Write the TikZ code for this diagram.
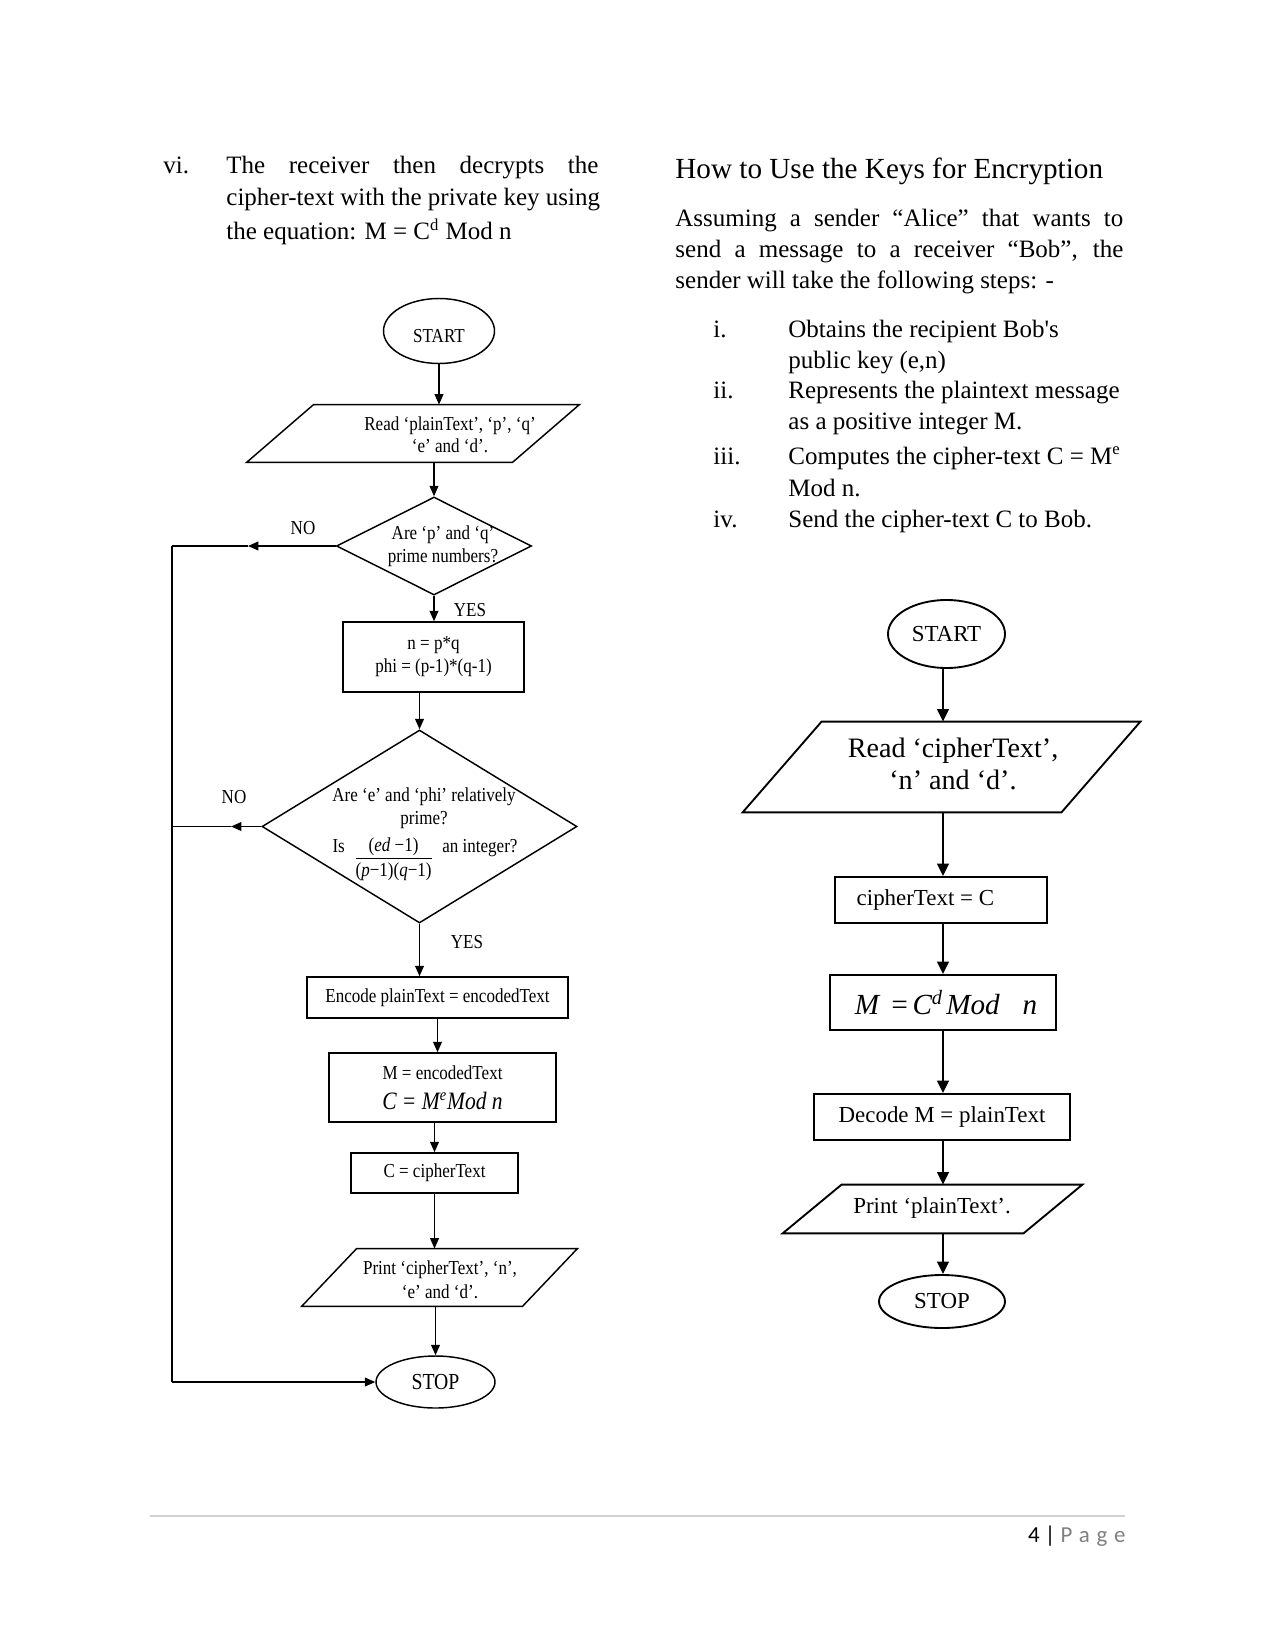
\documentclass[tikz,border=0pt]{standalone}
\usepackage{fontspec}
\setmainfont{Liberation Serif}
\newfontfamily\cf[FakeStretch=0.86]{Liberation Serif}
\newfontfamily\ff{Carlito}
\usetikzlibrary{shapes.geometric,arrows.meta,calc}
\begin{document}
\begin{tikzpicture}[x=0.48pt,y=-0.48pt,
  ln/.style={line width=0.7pt},
  arr/.style={line width=0.7pt,-{Triangle[length=5pt,width=4.2pt]}},
  rarr/.style={line width=0.95pt,-{Triangle[length=6pt,width=5.6pt]}},
  lbox/.style={draw,line width=0.7pt,rectangle,inner sep=0pt,align=center,font=\cf\fontsize{9.5}{11}\selectfont},
  rbox/.style={draw,line width=0.9pt,rectangle,inner sep=0pt,align=center,font=\fontsize{11}{13}\selectfont},
  lell/.style={draw,line width=0.7pt,ellipse,inner sep=0pt,font=\cf\fontsize{9.5}{11}\selectfont},
  rell/.style={draw,line width=0.9pt,ellipse,inner sep=0pt,font=\fontsize{11}{13}\selectfont},
  ldia/.style={draw,line width=0.7pt,diamond,inner sep=0pt},
  frm/.style={inner sep=0pt,rectangle},
  lt/.style={font=\cf\fontsize{9.5}{10.5}\selectfont,align=center,inner sep=0pt},
  rt/.style={font=\fontsize{11}{13}\selectfont,align=center,inner sep=0pt},
  body/.style={font=\fontsize{12}{14}\selectfont,anchor=base west,inner sep=0pt},
]
\fill[white] (0,0) rectangle (1275,1651);
\useasboundingbox (0,0) rectangle (1275,1651);

% ---------------- left text ----------------
\node[body] (vi) at (163,174) {vi.};
\node[body] (l1) at (226,174) {\makebox[178.6pt][s]{The receiver then decrypts the}};
\node[body] (l2) at (226,206) {cipher-text with the private key using};
\node[body] (l3) at (226,240) {the equation: M = C\textsuperscript{d} Mod n};

% ---------------- right text ----------------
\node[body,font=\fontsize{14}{16}\selectfont] (h) at (675,179) {How to Use the Keys for Encryption};
\node[body] (a1) at (675,227) {\makebox[215pt][s]{Assuming a sender “Alice” that wants to}};
\node[body] (a2) at (675,257) {\makebox[215pt][s]{send a message to a receiver “Bob”, the}};
\node[body] (a3) at (675,288) {sender will take the following steps: -};

\node[body] (n1) at (713,337) {i.};
\node[body] (i1a) at (788,337) {Obtains the recipient Bob\textquotesingle s};
\node[body] (i1b) at (788,368) {public key (e,n)};
\node[body] (n2) at (713,398) {ii.};
\node[body] (i2a) at (788,398) {Represents the plaintext message};
\node[body] (i2b) at (788,429) {as a positive integer M.};
\node[body] (n3) at (713,464) {iii.};
\node[body] (i3a) at (788,464) {Computes the cipher-text C = M\textsuperscript{e}};
\node[body] (i3b) at (788,496) {Mod n.};
\node[body] (n4) at (713,527) {iv.};
\node[body] (i4a) at (788,527) {Send the cipher-text C to Bob.};

% ---------------- left flowchart ----------------
\node[lell,minimum width=111*0.48pt,minimum height=65*0.48pt,text height=11.5pt,text depth=0pt] (s1) at (439,331) {START};

\node[frm,minimum width=332*0.48pt,minimum height=57*0.48pt] (p1) at (413,433.5) {};
\draw[ln] (p1.south west) -- ($(p1.north west)+(67,0)$) -- (p1.north east) -- ($(p1.south east)+(-67,0)$) -- cycle;
\node[lt] (p1t) at (450,435) {Read ‘plainText’, ‘p’, ‘q’\\‘e’ and ‘d’.};

\node[ldia,minimum width=195*0.48pt,minimum height=98*0.48pt] (d1) at (434,546) {};
\node[lt,font=\cf\fontsize{9.5}{11}\selectfont] (d1t) at (443,546.5) {Are ‘p’ and ‘q’\\prime numbers?};

\node[lbox,minimum width=181*0.48pt,minimum height=70*0.48pt] (r1) at (433.5,657) {n = p*q\\phi = (p-1)*(q-1)};

\node[ldia,minimum width=315*0.48pt,minimum height=193*0.48pt] (d2) at (419.5,826.5) {};
\node[lt,font=\cf\fontsize{9.5}{11}\selectfont] (d2t) at (424,808) {Are ‘e’ and ‘phi’ relatively\\prime?};
\node[lt,anchor=base] (d2f) at (425,852) {Is\hspace{4pt}\raisebox{-5.5pt}{$\displaystyle\frac{\mbox{(\textit{ed} −1)}}{\mbox{(\textit{p}−1)(\textit{q}−1)}}$}\hspace{4pt}an integer?};

\node[lbox,minimum width=261*0.48pt,minimum height=41*0.48pt] (r2) at (437.5,997.5) {Encode plainText = encodedText};

\node[lbox,minimum width=227*0.48pt,minimum height=69*0.48pt,font=\cf\fontsize{9.5}{14.4}\selectfont] (r3) at (442.5,1087.5) {M = encodedText\\{\fontsize{12}{14.4}\selectfont\itshape C = M\textsuperscript{e}Mod n}};

\node[lbox,minimum width=167*0.48pt,minimum height=40*0.48pt] (r4) at (434.5,1173) {C = cipherText};

\node[frm,minimum width=275*0.48pt,minimum height=57*0.48pt] (p2) at (439.5,1277.5) {};
\draw[ln] (p2.south west) -- ($(p2.north west)+(55,0)$) -- (p2.north east) -- ($(p2.south east)+(-55,0)$) -- cycle;
\node[lt,font=\cf\fontsize{9.5}{11.5}\selectfont] (p2t) at (440,1280) {Print ‘cipherText’, ‘n’,\\‘e’ and ‘d’.};

\node[lell,minimum width=119*0.48pt,minimum height=52*0.48pt,font=\cf\fontsize{11}{13}\selectfont] (e2) at (435.5,1382) {STOP};

% labels
\node[lt] (no1) at (303,528) {NO};
\node[lt] (no2) at (234,797) {NO};
\node[lt] (yes1) at (470,610) {YES};
\node[lt] (yes2) at (467,942) {YES};

% connectors left
\draw[arr] (s1.south) -- (s1.south |- p1.north);
\draw[arr] (d1.north |- p1.south) -- (d1.north);
\draw[arr] (d1.south) -- (d1.south |- r1.north);
\draw[arr] (d2.north |- r1.south) -- (d2.north);
\draw[arr] (d2.south) -- (d2.south |- r2.north);
\draw[arr] (r2.south) -- (r2.south |- r3.north);
\draw[arr] (r4.north |- r3.south) -- (r4.north);
\draw[arr] (r4.south) -- (r4.south |- p2.north);
\draw[arr] (e2.north |- p2.south) -- (e2.north);

\coordinate (na) at (248,546);
\coordinate (nb) at (172,546);
\coordinate (nc) at (231,826.5);
\coordinate (nd) at (172,826.5);
\coordinate (ne) at (172,1382);
\draw[arr] (d1.west) -- (na);
\draw[ln] (na) -- (nb);
\draw[arr] (d2.west) -- (nc);
\draw[ln] (nc) -- (nd);
\draw[ln] (nb) -- (ne);
\draw[arr] (ne) -- (e2.west);

% ---------------- right flowchart ----------------
\node[rell,minimum width=117*0.48pt,minimum height=68*0.48pt] (s2) at (946.5,634) {START};

\node[frm,minimum width=397*0.48pt,minimum height=90*0.48pt] (p3) at (941.5,767) {};
\draw[line width=0.9pt] (p3.south west) -- ($(p3.north west)+(79,0)$) -- (p3.north east) -- ($(p3.south east)+(-79,0)$) -- cycle;
\node[rt,font=\fontsize{13.5}{15.4}\selectfont] (p3t) at (953,764) {Read ‘cipherText’,\\‘n’ and ‘d’.};

\node[rbox,minimum width=212*0.48pt,minimum height=46*0.48pt] (r5) at (941,900) {cipherText = C\hspace*{15pt}};

\node[rbox,minimum width=226*0.48pt,minimum height=55*0.48pt,font=\fontsize{14}{16}\selectfont\itshape] (r6) at (943,1002.5) {\hspace*{3pt}M\hspace{5pt}=\hspace{1.5pt}C\textsuperscript{d}\hspace{1.5pt}Mod\hspace{11pt}n};

\node[rbox,minimum width=256*0.48pt,minimum height=46*0.48pt] (r7) at (942,1117) {Decode M = plainText};

\node[frm,minimum width=299*0.48pt,minimum height=48*0.48pt] (p4) at (932.5,1209) {};
\draw[line width=0.9pt] (p4.south west) -- ($(p4.north west)+(59,0)$) -- (p4.north east) -- ($(p4.south east)+(-59,0)$) -- cycle;
\node[rt] (p4t) at (932,1208) {Print ‘plainText’.};

\node[rell,minimum width=126*0.48pt,minimum height=53*0.48pt] (e3) at (942,1301.5) {STOP};

\draw[rarr] (r6.north |- s2.south) -- (r6.north |- p3.north);
\draw[rarr] (r6.north |- p3.south) -- (r6.north |- r5.north);
\draw[rarr] (r6.north |- r5.south) -- (r6.north);
\draw[rarr] (r6.south) -- (r6.south |- r7.north);
\draw[rarr] (r6.south |- r7.south) -- (r6.south |- p4.north);
\draw[rarr] (r6.south |- p4.south) -- (r6.south |- e3.north);

% ---------------- footer ----------------
\coordinate (fl) at (150,1516);
\coordinate (fr) at (1125,1516);
\draw[black!18,line width=0.5pt] (fl) -- (fr);
\node[anchor=base east,inner sep=0pt,font=\ff\fontsize{11}{13}\selectfont] (pg) at (1126,1542) {4 | {\color{black!50}\addfontfeature{LetterSpace=30}Page}};
\end{tikzpicture}
\end{document}
